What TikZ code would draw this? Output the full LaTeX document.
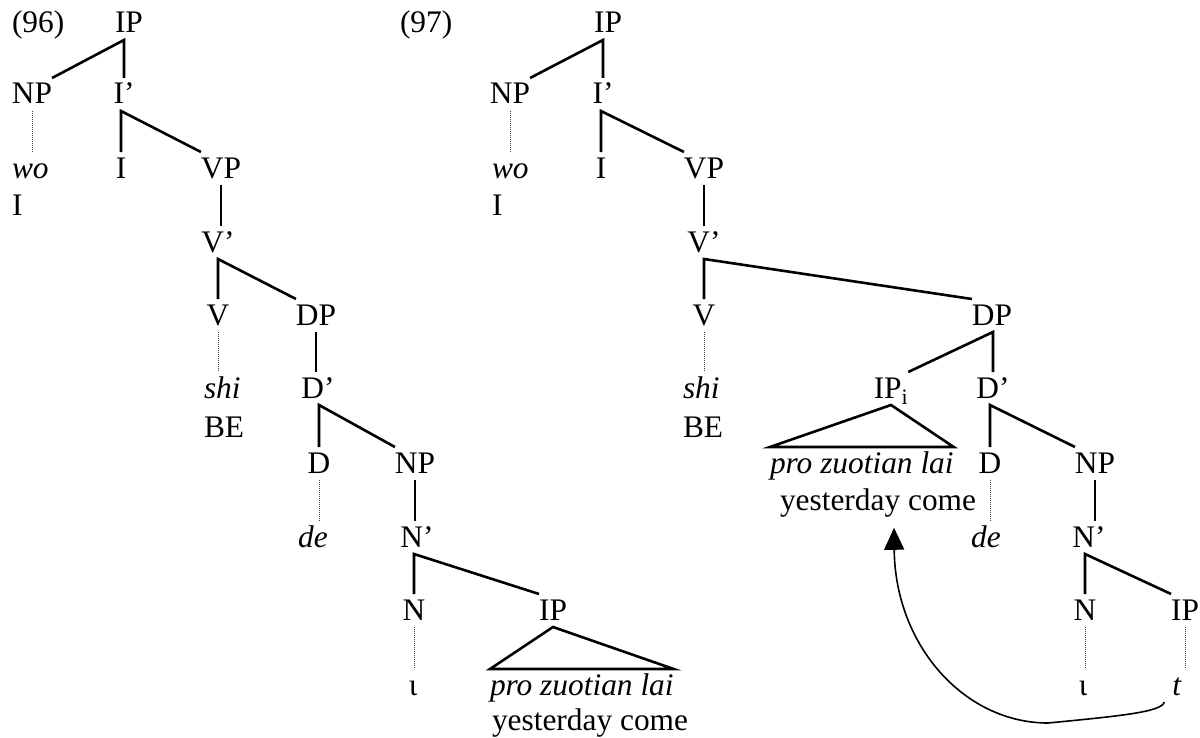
\documentclass[tikz,border=0pt]{standalone}
\usepackage{fontspec}
\setmainfont{Liberation Serif}
\usetikzlibrary{arrows.meta}
\definecolor{branchColor}{HTML}{000000}
\definecolor{leafLinkColor}{HTML}{404040}
\definecolor{traceColor}{HTML}{000000}
\def\textPro{\textit{pro zuotian lai}}
\def\textGloss{yesterday come}

\begin{document}
\begin{tikzpicture}[x=1bp,y=-1bp,
  every node/.style={font=\fontsize{31.5}{38}\selectfont, inner sep=0pt, outer sep=0pt},
  cat/.style={anchor=base, text height=19bp, text depth=0pt, outer ysep=7bp},
  leaf/.style={anchor=base west, text height=19bp, text depth=0pt, outer ysep=7bp},
  branch/.style={color=branchColor, line width=2.6bp},
  dots/.style={color=leafLinkColor, line width=0.9bp, dash pattern=on 1bp off 1bp},
  trace/.style={color=traceColor, line width=1.6bp, -{Triangle[width=20bp,length=22bp]}}]

\useasboundingbox (0, 0) rectangle (1200, 738);

% tree (96)
\begin{scope}
% labels
\node[anchor=base west] (ex96) at (12, 33) {(96)};
\node[cat] (ipA) at (129, 33) {IP};
\node[cat] (npA) at (32, 104) {NP};
\node[cat] (ibarA) at (124, 104) {I’};
\node[leaf] (woA) at (12, 178) {\textit{wo}};
\node[anchor=base west] (woGlossA) at (12, 215) {I};
\node[cat] (iA) at (121, 178) {I};
\node[cat] (vpA) at (221, 178) {VP};
\node[cat] (vbarA) at (218, 252) {V’};
\node[cat] (vA) at (218, 325) {V};
\node[cat] (dpA) at (316, 325) {DP};
\node[leaf] (shiA) at (204, 398) {\textit{shi}};
\node[anchor=base west] (beA) at (204, 437) {BE};
\node[cat] (dbarA) at (318, 398) {D’};
\node[cat] (dA) at (319, 473) {D};
\node[cat] (npA2) at (415, 473) {NP};
\node[cat] (deA) at (313, 547) {\textit{de}};
\node[cat] (nbarA) at (417, 547) {N’};
\node[cat] (nA) at (414, 620) {N};
\node[cat] (ipA2) at (553, 620) {IP};
\node[cat] (iotaA) at (413, 695) {ι};
\node[leaf] (proA) at (490, 695) {\textPro};
\node[anchor=base west] (glossA) at (492, 730) {\textGloss};

% branches
\draw[branch] (npA.north east) -- (ibarA.north |- ipA.south) -- (ibarA.north);
\draw[branch] (iA.north) -- (iA.north |- ibarA.south) -- (vpA.north west);
\draw[branch] (vpA.south) -- (vpA.south |- vbarA.north);
\draw[branch] (vA.north) -- (vA.north |- vbarA.south) -- (dpA.north west);
\draw[branch] (dpA.south) -- (dpA.south |- dbarA.north);
\draw[branch] (dA.north) -- (dA.north |- dbarA.south) -- (npA2.north west);
\draw[branch] (npA2.south) -- (npA2.south |- nbarA.north);
\draw[branch] (nA.north) -- (nA.north |- nbarA.south) -- (ipA2.north west);
\draw[branch] (ipA2.south) -- (proA.north west) -- (proA.north east) -- cycle;

% dotted leaf links
\draw[dots] (npA.south) -- (npA.south |- woA.north);
\draw[dots] (vA.south) -- (vA.south |- shiA.north);
\draw[dots] (dA.south) -- (dA.south |- deA.north);
\draw[dots] (nA.south) -- (nA.south |- iotaA.north);
\end{scope}

% tree (97)
\begin{scope}
% labels
\node[anchor=base west] (ex97) at (400, 33) {(97)};
\node[cat] (ipB) at (608, 33) {IP};
\node[cat] (npB) at (510, 104) {NP};
\node[cat] (ibarB) at (603, 104) {I’};
\node[leaf] (woB) at (492, 178) {\textit{wo}};
\node[anchor=base west] (woGlossB) at (492, 215) {I};
\node[cat] (iB) at (601, 178) {I};
\node[cat] (vpB) at (704, 178) {VP};
\node[cat] (vbarB) at (704, 252) {V’};
\node[cat] (vB) at (704, 325) {V};
\node[cat] (dpB) at (992, 325) {DP};
\node[leaf] (shiB) at (683, 398) {\textit{shi}};
\node[anchor=base west] (beB) at (683, 437) {BE};
\node[cat] (ipiB) at (891, 398) {IP\textsubscript{i}};
\node[cat] (dbarB) at (993, 398) {D’};
\node[leaf] (proB) at (770, 473) {\textPro};
\node[anchor=base west] (glossB) at (780, 510) {\textGloss};
\node[cat] (dB) at (990, 473) {D};
\node[cat] (npB2) at (1095, 473) {NP};
\node[cat] (deB) at (986, 547) {\textit{de}};
\node[cat] (nbarB) at (1089, 547) {N’};
\node[cat] (nB) at (1085, 620) {N};
\node[cat] (ipB2) at (1185, 620) {IP};
\node[cat] (iotaB) at (1083, 695) {ι};
\node[cat] (tB) at (1177, 695) {\textit{t}};

% branches
\draw[branch] (npB.north east) -- (ibarB.north |- ipB.south) -- (ibarB.north);
\draw[branch] (iB.north) -- (iB.north |- ibarB.south) -- (vpB.north west);
\draw[branch] (vpB.south) -- (vpB.south |- vbarB.north);
\draw[branch] (vB.north) -- (vB.north |- vbarB.south) -- (dpB.north west);
\draw[branch] (ipiB.north east) -- (dbarB.north |- dpB.south) -- (dbarB.north);
\draw[branch] (ipiB.south) -- (proB.north west) -- (proB.north east) -- cycle;
\draw[branch] (dB.north) -- (dB.north |- dbarB.south) -- (npB2.north west);
\draw[branch] (npB2.south) -- (npB2.south |- nbarB.north);
\draw[branch] (nB.north) -- (nB.north |- nbarB.south) -- (ipB2.north west);

% dotted leaf links
\draw[dots] (npB.south) -- (npB.south |- woB.north);
\draw[dots] (vB.south) -- (vB.south |- shiB.north);
\draw[dots] (dB.south) -- (dB.south |- deB.north);
\draw[dots] (nB.south) -- (nB.south |- iotaB.north);
\draw[dots] (ipB2.south) -- (ipB2.south |- tB.north);

% movement of the trace
\coordinate (traceLow) at (1048, 723);
\draw[trace] ([xshift=-8bp]tB.south west) .. controls (1162, 712) and (1120, 716) .. (traceLow)
  .. controls (964, 723) and (895, 645) .. ([xshift=16bp, yshift=-11bp]glossB.south);
\end{scope}

\end{tikzpicture}
\end{document}
